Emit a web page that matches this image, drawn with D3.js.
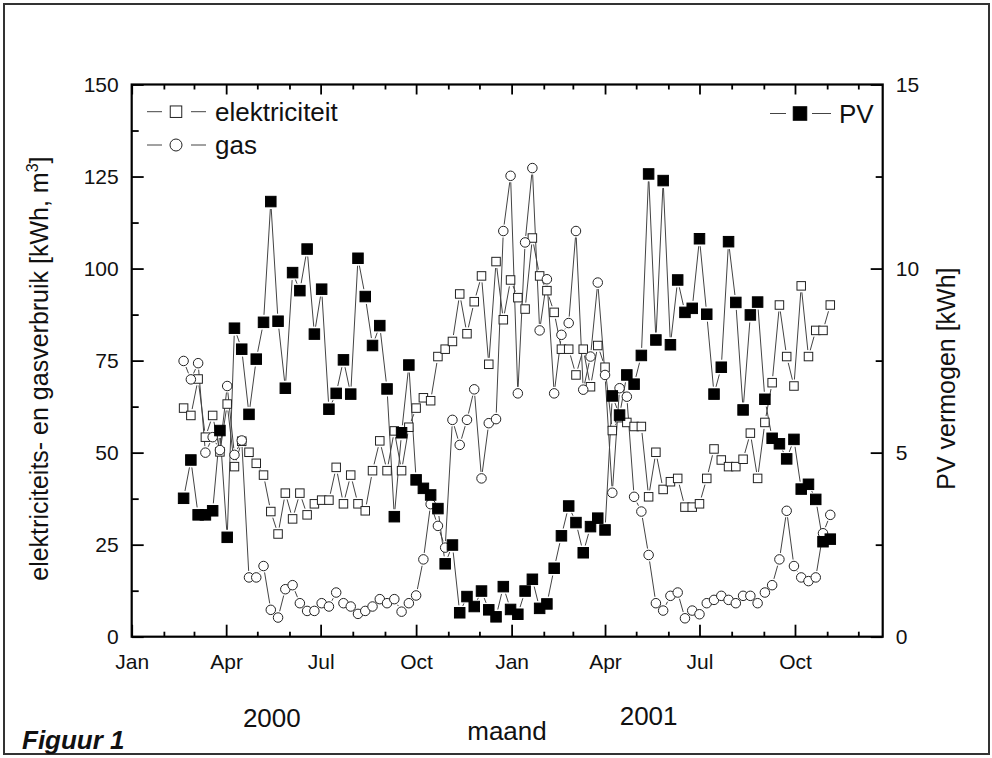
<!DOCTYPE html>
<html><head><meta charset="utf-8">
<script src="https://cdn.jsdelivr.net/npm/d3@7"></script>
<style>
body{margin:0;background:#fff}
svg{display:block}
text{font-family:Arial,"Liberation Sans",sans-serif;fill:#111}
</style>
</head><body>
<svg id="chart" width="992" height="758"></svg>
<script>
// ---- data (weekly readings, first week starting 2000-02-20) ----
const weekStart = "2000-02-20";
const elektriciteit = [
 62.1, 60.1, 70.0, 54.2, 60.1, 50.2, 63.2, 46.2, 53.1, 50.1,
 47.1, 43.9, 34.0, 27.9, 39.0, 32.0, 39.0, 33.1, 36.1, 37.1,
 37.1, 46.0, 36.1, 43.9, 36.1, 34.2, 45.1, 53.2, 45.1, 55.9,
 45.1, 56.9, 62.1, 64.9, 64.1, 76.1, 78.1, 80.2, 93.1, 82.3,
 91.0, 98.0, 74.0, 101.9, 86.1, 96.9, 92.1, 89.0, 108.3, 98.0,
 94.0, 88.1, 78.1, 78.1, 71.1, 78.1, 67.9, 79.1, 73.2, 56.0,
 59.5, 58.2, 57.1, 57.1, 38.0, 50.1, 40.0, 42.1, 43.0, 35.2,
 35.2, 36.1, 43.0, 51.0, 48.0, 46.2, 46.2, 48.2, 55.3, 43.0,
 58.2, 69.0, 90.1, 76.1, 68.1, 95.3, 76.1, 83.2, 83.2, 90.1];
const gas = [
 74.9, 69.9, 74.3, 50.0, 54.2, 50.7, 68.1, 49.4, 53.3, 16.1,
 16.1, 19.2, 7.3, 5.2, 12.9, 14.0, 9.1, 7.0, 7.0, 9.1,
 8.2, 12.0, 9.1, 8.2, 6.2, 7.0, 8.2, 10.2, 9.1, 10.2,
 6.8, 9.1, 11.2, 21.0, 36.0, 30.1, 24.2, 58.9, 52.1, 58.9,
 67.2, 43.0, 58.0, 59.1, 110.2, 125.2, 66.1, 107.1, 127.3, 83.2,
 97.1, 66.1, 82.0, 85.2, 110.2, 67.1, 76.1, 96.2, 71.1, 39.1,
 67.5, 65.2, 38.0, 34.0, 22.2, 9.1, 7.1, 11.1, 12.0, 5.0,
 7.1, 6.1, 9.1, 10.0, 11.1, 10.0, 9.1, 11.1, 11.1, 9.1,
 12.0, 14.0, 21.0, 34.2, 19.2, 16.1, 15.1, 16.1, 28.1, 33.1];
const pv = [ // kWh, right axis
 3.76, 4.80, 3.31, 3.31, 3.42, 5.60, 2.70, 8.38, 7.81, 6.04,
 7.54, 8.54, 11.82, 8.57, 6.75, 9.89, 9.40, 10.53, 8.22, 9.44,
 6.18, 6.61, 7.52, 6.59, 10.28, 9.24, 7.91, 8.45, 6.73, 3.26,
 5.54, 7.38, 4.26, 4.03, 3.85, 3.48, 1.98, 2.49, 0.65, 1.09,
 0.82, 1.24, 0.73, 0.54, 1.36, 0.74, 0.61, 1.24, 1.56, 0.77,
 0.89, 1.86, 2.74, 3.55, 3.10, 2.28, 2.99, 3.22, 2.90, 6.54,
 6.02, 7.11, 6.86, 7.64, 12.57, 8.06, 12.39, 7.93, 9.69, 8.81,
 8.92, 10.81, 8.76, 6.59, 7.32, 10.73, 9.08, 6.16, 8.74, 9.09,
 6.45, 5.39, 5.24, 4.83, 5.36, 4.01, 4.14, 3.73, 2.58, 2.65];

const leftTicks = [0, 25, 50, 75, 100, 125, 150];
const leftMinor = [12.5, 37.5, 62.5, 87.5, 112.5, 137.5];
const rightTicks = [0, 5, 10, 15];
const rightMinor = [2.5, 7.5, 12.5];
const monthTickLabels = ["Jan", "Apr", "Jul", "Oct", "Jan", "Apr", "Jul", "Oct"];
const yearLabels = ["2000", "2001"];
const yearLabelDates = ["2000-05-15", "2001-05-13"];
const legendLabels = ["elektriciteit", "gas", "PV"];
const leftTitle = "elektriciteits- en gasverbruik [kWh, m";
const rightTitle = "PV vermogen [kWh]";
const xTitle = "maand";
const figLabel = "Figuur 1";

// ---- layout ----
const svg = d3.select("#chart");
const L = 131.7, R = 882.7, T = 84.5, B = 636.7;
const xStart = new Date(2000, 0, 1), xEnd = new Date(2001, 11, 24, 12);
const x = d3.scaleTime().domain([xStart, xEnd]).range([L, R]);
const yL = d3.scaleLinear().domain([0, 150]).range([B, T]);
const yR = d3.scaleLinear().domain([0, 15]).range([B, T]);
const parseDay = d3.timeParse("%Y-%m-%d");

const start = parseDay(weekStart);
const dates = d3.timeWeek.range(start, d3.timeWeek.offset(start, elektriciteit.length));

// outer frame
svg.append("rect").attr("x", 4).attr("y", 4).attr("width", 985).attr("height", 750)
  .attr("fill", "none").attr("stroke", "#333").attr("stroke-width", 2);

// ---- series lines with gaps (Origin style) ----
function gappedSegments(pts, gap) {
  const segs = [];
  for (let i = 1; i < pts.length; i++) {
    const [x1, y1] = pts[i - 1], [x2, y2] = pts[i];
    const dx = x2 - x1, dy = y2 - y1, len = Math.hypot(dx, dy);
    if (len <= 2 * gap) continue;
    const ux = dx / len, uy = dy / len;
    segs.push([x1 + ux * gap, y1 + uy * gap, x2 - ux * gap, y2 - uy * gap]);
  }
  return segs;
}
const series = [
  {vals: elektriciteit, y: yL, kind: "sq", gap: 6.5},
  {vals: gas, y: yL, kind: "ci", gap: 6.5},
  {vals: pv, y: yR, kind: "fsq", gap: 7.5}
];
const plot = svg.append("g");
series.forEach(s => {
  const pts = s.vals.map((v, i) => [x(dates[i]), s.y(v)]);
  s.pts = pts;
  plot.append("g").selectAll("line").data(gappedSegments(pts, s.gap)).join("line")
    .attr("x1", d => d[0]).attr("y1", d => d[1]).attr("x2", d => d[2]).attr("y2", d => d[3])
    .attr("stroke", "#444").attr("stroke-width", 1);
});
function drawMarker(g, kind, cx, cy, size) {
  if (kind === "ci") {
    g.append("circle").attr("cx", cx).attr("cy", cy).attr("r", size / 2)
      .attr("fill", "#fff").attr("stroke", "#222").attr("stroke-width", 1);
  } else {
    g.append("rect").attr("x", cx - size / 2).attr("y", cy - size / 2)
      .attr("width", size).attr("height", size)
      .attr("fill", kind === "fsq" ? "#000" : "#fff")
      .attr("stroke", kind === "fsq" ? "#000" : "#222").attr("stroke-width", 1);
  }
}
const sizes = {sq: 8.5, ci: 9.5, fsq: 10.5};
series.forEach(s => {
  const g = plot.append("g");
  s.pts.forEach(p => drawMarker(g, s.kind, p[0], p[1], sizes[s.kind]));
});

// ---- axes ----
const quarterTicks = d3.timeMonth.every(3).range(xStart, xEnd);
const monthTicks = d3.timeMonth.range(xStart, xEnd).filter(d => d.getMonth() % 3 !== 0);
function styleAxis(a, fs) {
  a.select(".domain").remove();
  a.selectAll(".tick line").attr("stroke", "#000").attr("stroke-width", 1.8);
  a.selectAll(".tick text").attr("font-size", fs).attr("fill", "#111")
    .attr("font-family", 'Arial,"Liberation Sans",sans-serif');
}
svg.append("g").attr("transform", `translate(0,${B})`)
  .call(d3.axisBottom(x).tickValues(quarterTicks).tickFormat((d, i) => monthTickLabels[i])
    .tickSizeInner(-12).tickSizeOuter(0).tickPadding(17))
  .call(a => styleAxis(a, 21));
svg.append("g").attr("transform", `translate(0,${B})`)
  .call(d3.axisBottom(x).tickValues(monthTicks).tickFormat("").tickSizeInner(-5).tickSizeOuter(0))
  .call(a => styleAxis(a, 0));
svg.append("g").attr("transform", `translate(0,${T})`)
  .call(d3.axisTop(x).tickValues(quarterTicks).tickFormat("").tickSizeInner(-10).tickSizeOuter(0))
  .call(a => styleAxis(a, 0));
svg.append("g").attr("transform", `translate(0,${T})`)
  .call(d3.axisTop(x).tickValues(monthTicks).tickFormat("").tickSizeInner(-5).tickSizeOuter(0))
  .call(a => styleAxis(a, 0));
svg.append("g").attr("transform", `translate(${L},0)`)
  .call(d3.axisLeft(yL).tickValues(leftTicks).tickFormat(d3.format("d"))
    .tickSizeInner(-12).tickSizeOuter(0).tickPadding(13))
  .call(a => styleAxis(a, 21));
svg.append("g").attr("transform", `translate(${L},0)`)
  .call(d3.axisLeft(yL).tickValues(leftMinor).tickFormat("").tickSizeInner(-7).tickSizeOuter(0))
  .call(a => styleAxis(a, 0));
svg.append("g").attr("transform", `translate(${R},0)`)
  .call(d3.axisRight(yR).tickValues(rightTicks).tickFormat(d3.format("d"))
    .tickSizeInner(-12).tickSizeOuter(0).tickPadding(13))
  .call(a => styleAxis(a, 21));
svg.append("g").attr("transform", `translate(${R},0)`)
  .call(d3.axisRight(yR).tickValues(rightMinor).tickFormat("").tickSizeInner(-7).tickSizeOuter(0))
  .call(a => styleAxis(a, 0));

// plot box
svg.append("rect").attr("x", L).attr("y", T).attr("width", R - L).attr("height", B - T)
  .attr("fill", "none").attr("stroke", "#000").attr("stroke-width", 2.2);

// ---- legend ----
const leg = svg.append("g");
function legendItem(x0, yc, kind, msize, label, tx, lineEnds) {
  lineEnds.forEach(([a, b]) => leg.append("line").attr("x1", a).attr("x2", b)
    .attr("y1", yc).attr("y2", yc).attr("stroke", "#444").attr("stroke-width", 1));
  drawMarker(leg, kind, x0, yc, msize);
  leg.append("text").attr("x", tx).attr("y", yc).attr("dy", "0.36em")
    .attr("font-size", 26).text(label);
}
legendItem(176, 111.7, "sq", 11.5, legendLabels[0], 215, [[147, 162], [191, 206]]);
legendItem(176, 145, "ci", 12, legendLabels[1], 215, [[147, 162], [191, 206]]);
legendItem(800, 113.5, "fsq", 13.5, legendLabels[2], 839, [[770, 786], [812, 831]]);

// ---- titles ----
const lt = svg.append("text").attr("transform", `translate(48,${(T + B) / 2 + 8}) rotate(-90)`)
  .attr("text-anchor", "middle").attr("font-size", 25);
lt.append("tspan").text(leftTitle);
lt.append("tspan").attr("dy", -10).attr("font-size", 16).text("3");
lt.append("tspan").attr("dy", 10).text("]");

svg.append("text").attr("transform", `translate(955,${(T + B) / 2 + 18}) rotate(-90)`)
  .attr("text-anchor", "middle").attr("font-size", 25).text(rightTitle);

svg.append("text").attr("x", 507).attr("y", 740).attr("text-anchor", "middle")
  .attr("font-size", 26).text(xTitle);
yearLabels.forEach((t, i) => {
  svg.append("text").attr("x", x(parseDay(yearLabelDates[i]))).attr("y", i === 0 ? 727 : 725)
    .attr("text-anchor", "middle").attr("font-size", 26).text(t);
});
svg.append("text").attr("x", 22).attr("y", 749).attr("font-size", 26)
  .attr("font-weight", "bold").attr("font-style", "italic").text(figLabel);
</script>
</body></html>
